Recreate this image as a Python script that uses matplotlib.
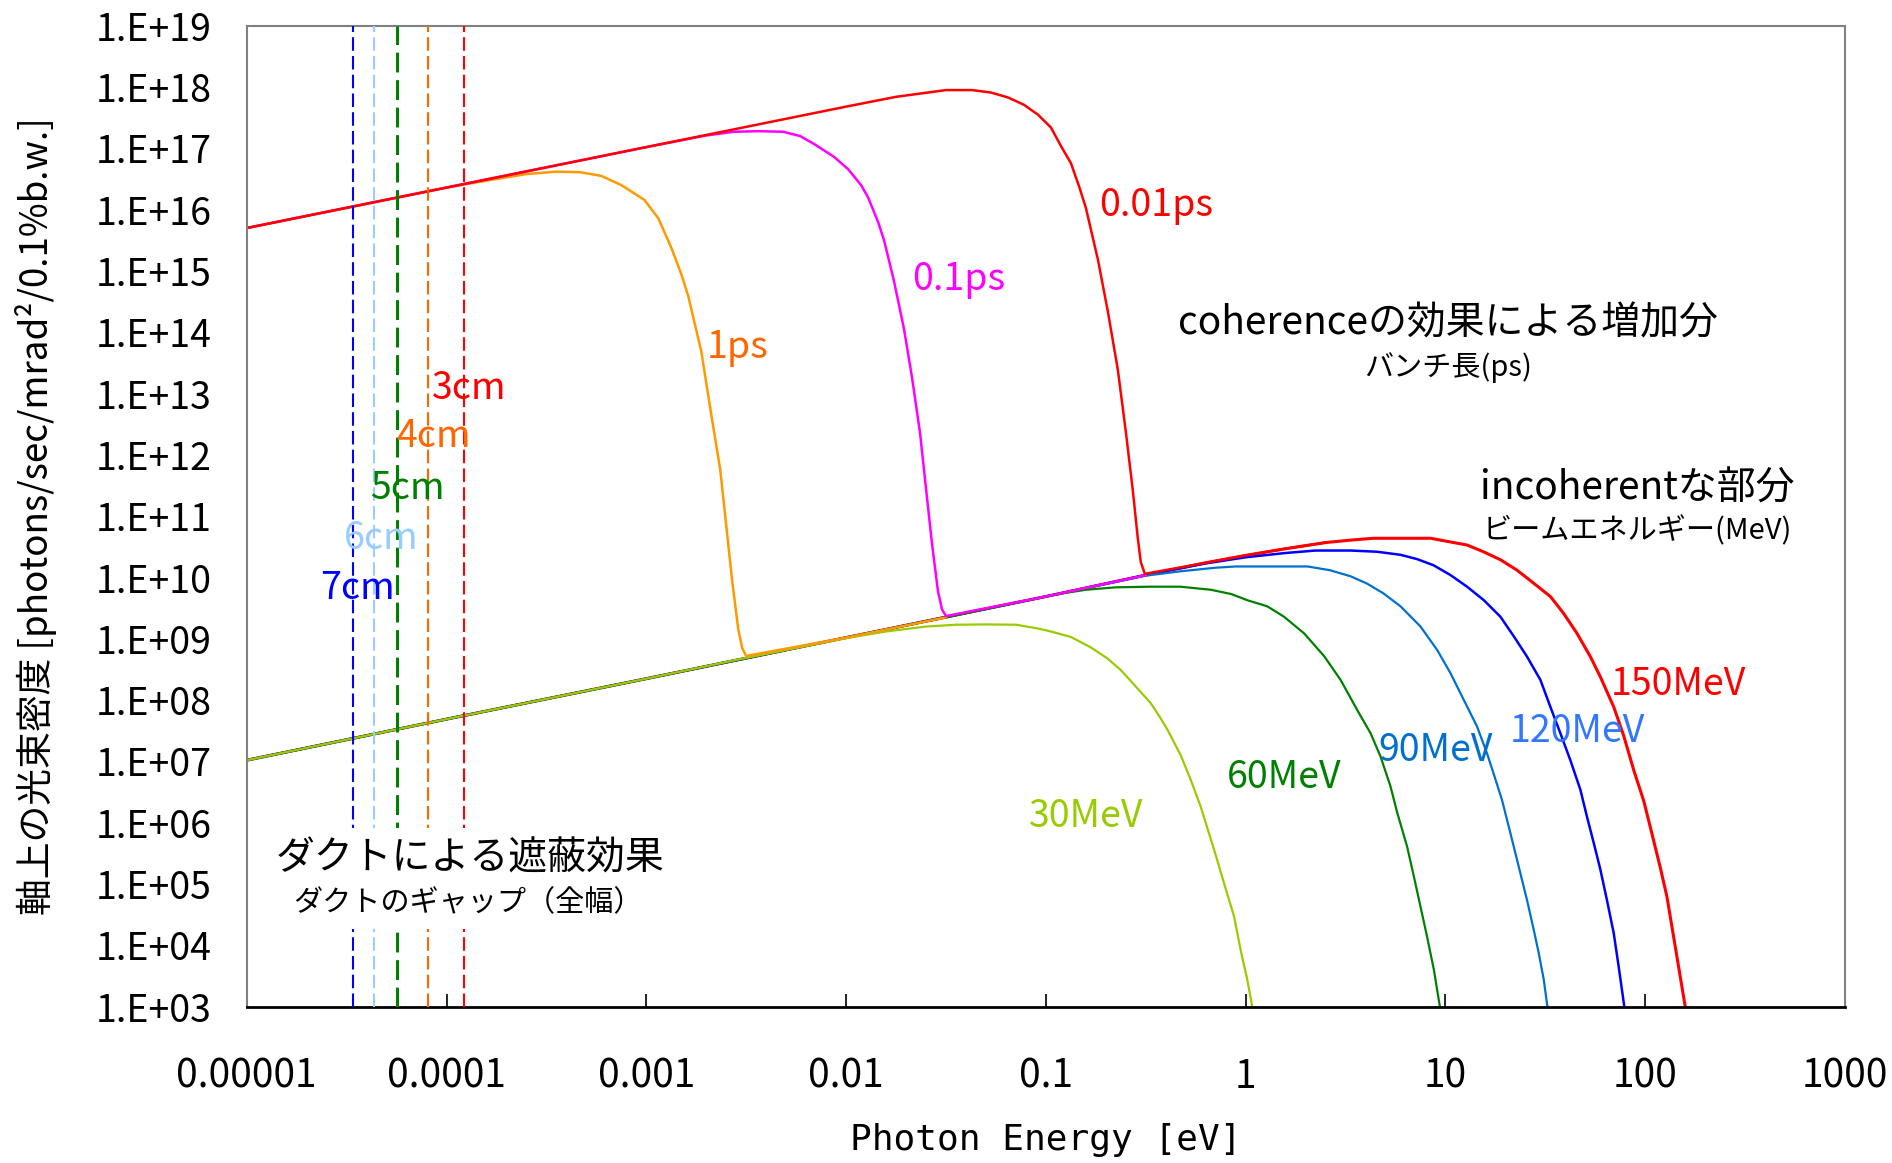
import numpy as np
import matplotlib
matplotlib.use("Agg")
import matplotlib.pyplot as plt
from matplotlib.ticker import FixedLocator, FixedFormatter, NullLocator

plt.rcParams['font.family'] = ['Noto Sans CJK JP', 'DejaVu Sans']

# ---- values, as log10 exponents ----
# x: photon energy [eV], y: on-axis flux density
# incoherent part, one curve per beam energy
logE_30 = [-5, -4, -3, -2.5, -2, -1.8, -1.6, -1.45, -1.3, -1.15, -1.042, -0.975, -0.875, -0.775,
           -0.692, -0.625, -0.558, -0.475, -0.425, -0.39, -0.325, -0.275, -0.225, -0.158, -0.108,
           -0.058, -0.025, 0.008, 0.033]
logF_30 = [7.02, 7.69, 8.35, 8.69, 9.01, 9.12, 9.20, 9.23, 9.235, 9.23, 9.17, 9.12, 9.03, 8.86,
           8.68, 8.49, 8.25, 7.95, 7.70, 7.51, 7.10, 6.70, 6.26, 5.56, 5.01,
           4.47, 3.92, 3.44, 3.0]

logE_60 = [-5, -4, -3, -2, -1.5, -1, -0.9, -0.8, -0.65, -0.48, -0.327, -0.174, -0.072, 0.008, 0.108,
           0.192, 0.292, 0.392, 0.475, 0.558, 0.625, 0.675, 0.725, 0.758, 0.808, 0.842, 0.875,
           0.908, 0.942, 0.972]
logF_60 = [7.02, 7.69, 8.35, 9.02, 9.35, 9.69, 9.75, 9.80, 9.84, 9.85, 9.85, 9.80, 9.73, 9.63, 9.53,
           9.36, 9.09, 8.72, 8.33, 7.84, 7.46, 7.08, 6.59, 6.17, 5.61, 5.12, 4.63,
           4.14, 3.60, 3.0]

logE_90 = [-5, -4, -3, -2, -1, -0.5, -0.33, -0.15, -0.05, 0.31, 0.42, 0.525, 0.608, 0.69, 0.775,
           0.875, 0.958, 1.025, 1.092, 1.158, 1.208, 1.24, 1.283, 1.325, 1.367, 1.408, 1.442,
           1.467, 1.492, 1.51]
logF_90 = [7.02, 7.69, 8.35, 9.02, 9.69, 10.03, 10.10, 10.16, 10.18, 10.18, 10.12, 10.02, 9.90, 9.74, 9.53,
           9.20, 8.82, 8.44, 8.00, 7.57, 7.13, 6.81, 6.37, 5.83, 5.28, 4.74, 4.25,
           3.87, 3.44, 3.0]

logE_120 = [-5, -4, -3, -2, -1, -0.5, -0.2, 0, 0.2, 0.35, 0.525, 0.658, 0.775, 0.858, 0.94, 1.025,
            1.108, 1.192, 1.275, 1.342, 1.408, 1.475, 1.525, 1.575, 1.625, 1.675, 1.708, 1.742,
            1.775, 1.808, 1.842, 1.867, 1.895]
logF_120 = [7.02, 7.69, 8.35, 9.02, 9.69, 10.04, 10.23, 10.33, 10.40, 10.44, 10.44, 10.42, 10.37, 10.30, 10.20, 10.04,
            9.85, 9.63, 9.36, 9.04, 8.71, 8.33, 7.89, 7.46, 7.02, 6.54, 6.10, 5.67,
            5.24, 4.74, 4.20, 3.65, 3.0]

logE_150 = [-5, -4, -3, -2, -1, -0.5, -0.2, 0, 0.2, 0.4, 0.525, 0.64, 0.925, 1.008, 1.108, 1.19,
            1.275, 1.358, 1.44, 1.525, 1.59, 1.658, 1.725, 1.775, 1.842, 1.892, 1.942, 1.992,
            2.025, 2.075, 2.108, 2.15, 2.2]
logF_150 = [7.02, 7.69, 8.35, 9.02, 9.69, 10.04, 10.24, 10.36, 10.47, 10.57, 10.61, 10.64, 10.64, 10.59, 10.53, 10.42,
            10.29, 10.12, 9.91, 9.69, 9.42, 9.09, 8.71, 8.38, 7.89, 7.42, 6.86, 6.36,
            5.93, 5.27, 4.80, 3.98, 3.0]

# coherent enhancement, one curve per bunch length
logE_1ps = [-5, -4.5, -4, -3.75, -3.6, -3.45, -3.33, -3.225, -3.125, -3.01, -2.94, -2.875, -2.825,
            -2.79, -2.725, -2.675, -2.63, -2.6, -2.57, -2.54, -2.52, -2.5, -2, -1.5]
logF_1ps = [15.70, 16.03, 16.36, 16.50, 16.58, 16.62, 16.61, 16.55, 16.40, 16.16, 15.86, 15.38, 14.95,
            14.59, 13.69, 12.66, 11.76, 10.85, 9.94, 9.16, 8.85, 8.72, 9.02, 9.35]

logE_01ps = [-5, -4, -3, -2.7, -2.56, -2.44, -2.315, -2.23, -2.16, -2.06, -1.99, -1.925, -1.89,
             -1.84, -1.81, -1.76, -1.71, -1.67, -1.63, -1.60, -1.57, -1.54, -1.52, -1.50, -1, -0.5]
logF_01ps = [15.70, 16.36, 17.02, 17.21, 17.27, 17.28, 17.27, 17.20, 17.07, 16.86, 16.66, 16.40, 16.20,
             15.80, 15.50, 14.83, 14.05, 13.26, 12.36, 11.45, 10.55, 9.77, 9.48, 9.37, 9.69, 10.04]

logE_001ps = [-5, -4, -3, -2.5, -2, -1.75, -1.5, -1.37, -1.275, -1.19, -1.11, -1.04, -0.975, -0.925,
              -0.875, -0.833, -0.80, -0.74, -0.69, -0.64, -0.60, -0.565, -0.54, -0.525, -0.505,
              -0.3, 0, 0.2, 0.4]
logF_001ps = [15.70, 16.36, 17.02, 17.35, 17.68, 17.84, 17.95, 17.95, 17.91, 17.83, 17.71, 17.55, 17.34, 17.04,
              16.76, 16.37, 16.03, 15.19, 14.34, 13.39, 12.38, 11.42, 10.64, 10.25, 10.06,
              10.18, 10.36, 10.47, 10.57]

# duct shielding cut-off for each duct gap [eV]
duct_gap = ['7cm', '6cm', '5cm', '4cm', '3cm']
duct_E = [3.41e-5, 4.32e-5, 5.65e-5, 8.04e-5, 1.22e-4]

x_ticks = [1e-5, 1e-4, 1e-3, 1e-2, 1e-1, 1, 10, 100, 1000]
x_tick_labels = ['0.00001', '0.0001', '0.001', '0.01', '0.1', '1', '10', '100', '1000']
y_ticks = [10.0 ** k for k in range(3, 20)]
y_tick_labels = ['1.E+%02d' % k for k in range(3, 20)]

# ---- figure ----
fig = plt.figure(figsize=(18.92, 11.63), dpi=100)
ax = fig.add_axes([0.1304, 0.1344, 0.8448, 0.8435])
ax.set_xscale('log')
ax.set_yscale('log')

incoherent = [
    (logE_150, logF_150, '#ff0000', 2.2),
    (logE_120, logF_120, '#0000ff', 1.8),
    (logE_90, logF_90, '#0070d0', 1.6),
    (logE_60, logF_60, '#008000', 1.6),
    (logE_30, logF_30, '#99cc00', 1.6),
]
for e, f, c, w in incoherent:
    ax.plot(np.power(10.0, e), np.power(10.0, f), color=c, lw=w, zorder=2)

coherent = [
    (logE_1ps, logF_1ps, '#ff9900'),
    (logE_01ps, logF_01ps, '#ff00ff'),
    (logE_001ps, logF_001ps, '#ff0000'),
]
for e, f, c in coherent:
    ax.plot(np.power(10.0, e), np.power(10.0, f), color=c, lw=1.8, zorder=2)

duct_col = ['#0000ff', '#99ccff', '#008000', '#ff6600', '#ff0000']
duct_lw = [1.5, 1.5, 2.2, 1.5, 1.5]
for e, c, w in zip(duct_E, duct_col, duct_lw):
    ax.axvline(e, color=c, lw=w, dashes=(6.5, 2.5), zorder=3)

ax.set_xlim(1e-5, 1e3)
ax.set_ylim(1e3, 1e19)

ax.xaxis.set_major_locator(FixedLocator(x_ticks))
ax.xaxis.set_major_formatter(FixedFormatter(x_tick_labels))
ax.xaxis.set_minor_locator(NullLocator())
ax.yaxis.set_major_locator(FixedLocator(y_ticks))
ax.yaxis.set_major_formatter(FixedFormatter(y_tick_labels))
ax.yaxis.set_minor_locator(NullLocator())
ax.tick_params(axis='x', direction='in', length=9.5, width=1.2, pad=36, labelsize=28)
ax.tick_params(axis='y', length=0, pad=25, labelsize=27)

for s in ['left', 'top', 'right']:
    ax.spines[s].set_color('#808080')
    ax.spines[s].set_linewidth(1.5)
ax.spines['bottom'].set_color('black')
ax.spines['bottom'].set_linewidth(2)

ax.text(-0.132, 0.5, '軸上の光束密度 [photons/sec/mrad²/0.1%b.w.]', transform=ax.transAxes,
        rotation=90, ha='center', va='center', fontsize=26.5)
ax.text(0.5, -0.136, 'Photon Energy [eV]', transform=ax.transAxes,
        ha='center', va='center', fontsize=26, family=['DejaVu Sans Mono'])

# curve labels
labels = [
    ('0.01ps', 0.569, 0.817, '#ff0000'),
    ('0.1ps', 0.4457, 0.741, '#ff00ff'),
    ('1ps', 0.3074, 0.672, '#ff6600'),
    ('150MeV', 0.8955, 0.328, '#ff0000'),
    ('120MeV', 0.8323, 0.281, '#3377ff'),
    ('90MeV', 0.7441, 0.261, '#0070d0'),
    ('60MeV', 0.649, 0.234, '#008000'),
    ('30MeV', 0.525, 0.194, '#99cc00'),
    ('3cm', 0.139, 0.630, '#ff0000'),
    ('4cm', 0.1172, 0.581, '#ff6600'),
    ('5cm', 0.1003, 0.528, '#008000'),
    ('6cm', 0.084, 0.477, '#99ccff'),
    ('7cm', 0.0696, 0.426, '#0000ff'),
]
for t, x, y, c in labels:
    ax.text(x, y, t, transform=ax.transAxes, color=c, ha='center', va='center',
            fontsize=27, zorder=4)

ax.text(0.7516, 0.697, 'coherenceの効果による増加分', transform=ax.transAxes,
        ha='center', va='center', fontsize=28)
ax.text(0.7516, 0.652, 'バンチ長(ps)', transform=ax.transAxes,
        ha='center', va='center', fontsize=21)
ax.text(0.870, 0.528, 'incoherentな部分', transform=ax.transAxes,
        ha='center', va='center', fontsize=28)
ax.text(0.870, 0.485, 'ビームエネルギー(MeV)', transform=ax.transAxes,
        ha='center', va='center', fontsize=21)

box = dict(facecolor='white', edgecolor='none', pad=8)
ax.text(0.1397, 0.1506, 'ダクトによる遮蔽効果', transform=ax.transAxes,
        ha='center', va='center', fontsize=28, bbox=box, zorder=5)
ax.text(0.1385, 0.1057, 'ダクトのギャップ（全幅）', transform=ax.transAxes,
        ha='center', va='center', fontsize=21, bbox=box, zorder=5)

fig.savefig('out.png', dpi=100, facecolor='white')
